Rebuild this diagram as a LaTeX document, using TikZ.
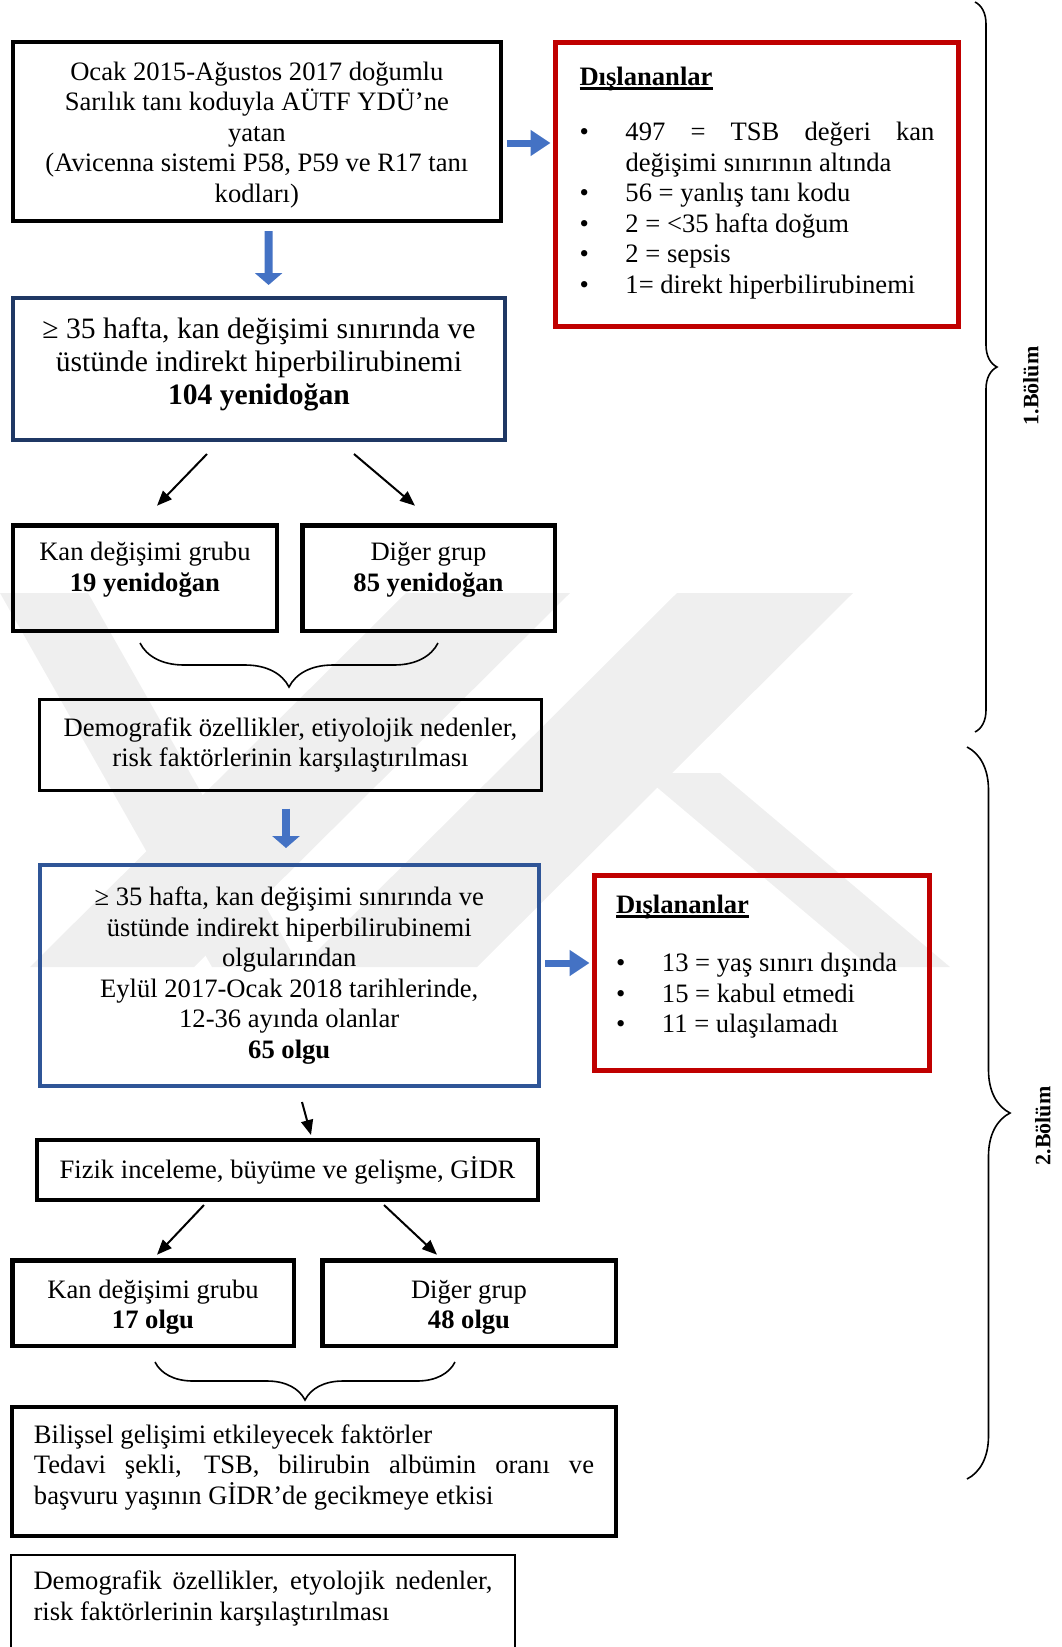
\documentclass[tikz,border=0pt]{standalone}
\usepackage{fontspec}
\setmainfont{Liberation Serif}
\usetikzlibrary{arrows.meta,decorations.pathreplacing}
\definecolor{navycolor}{RGB}{31,56,100}
\definecolor{cohortcolor}{RGB}{47,85,151}
\definecolor{exclcolor}{RGB}{192,0,0}
\definecolor{arrowcolor}{RGB}{68,114,196}
\definecolor{markcolor}{RGB}{239,239,239}
\newcommand{\boxfont}{\fontsize{26.6}{30.5}\selectfont}
\newcommand{\bigboxfont}{\fontsize{29.6}{33}\selectfont}
\newsavebox{\headbox}
\newcommand{\exhead}[1]{\sbox{\headbox}{\textbf{#1}}\usebox{\headbox}\llap{\rule[-4pt]{\wd\headbox}{2.2pt}}}
\newcommand{\exitem}[1]{\par\hangindent=46pt\hangafter=1\noindent\makebox[46pt][l]{\textbullet}#1}

\begin{document}
\begin{tikzpicture}[x=1pt, y=-1pt,
    box/.style={rectangle, draw, line width=4pt, align=center, font=\boxfont, inner sep=0pt},
    exclbox/.style={rectangle, draw=exclcolor, line width=5pt, align=justify, font=\boxfont, inner sep=0pt},
    bluearrow/.style={-{Triangle[length=12pt,width=27pt]}, line width=8pt, arrowcolor},
    sidearrow/.style={-{Triangle[length=20pt,width=25pt]}, line width=7pt, arrowcolor},
    thinarrow/.style={-{Triangle[length=15pt,width=12pt]}, line width=2pt},
    groupbrace/.style={decorate, decoration={brace, mirror, amplitude=#1}, line width=1.6pt},
    partbrace/.style={decorate, decoration={brace, amplitude=#1}, line width=1.6pt},
    partlabel/.style={rotate=90, font=\fontsize{22}{26}\selectfont\bfseries}
]
    \useasboundingbox (0,0) rectangle (1062,1647);

    % Watermark
    \fill[markcolor] (0,593) -- (88,593) -- (300,967) -- (212,967) -- cycle;
    \fill[markcolor] (406,593) -- (570,593) -- (194,967) -- (30,967) -- cycle;
    \fill[markcolor] (677,593) -- (853,593) -- (477,967) -- (301,967) -- cycle;
    \fill[markcolor] (640,773) -- (720,773) -- (950,967) -- (870,967) -- cycle;

    % Nodes
    \node[box, minimum width=488pt, minimum height=179pt] (intake) at (256.85,131.5)
        {\mbox{}\\[-5.5pt]Ocak 2015-Ağustos 2017 doğumlu\\Sarılık tanı koduyla AÜTF YDÜ’ne\\yatan\\(Avicenna sistemi P58, P59 ve R17 tanı\\kodları)};
    \node[box, draw=navycolor, font=\bigboxfont, minimum width=492pt, minimum height=142pt] (cohortA) at (258.9,369)
        {≥ 35 hafta, kan değişimi sınırında ve\\üstünde indirekt hiperbilirubinemi\\\textbf{104 yenidoğan}\\[-18pt]\mbox{}};
    \node[exclbox, minimum width=403pt, minimum height=284pt, text width=355pt] (exclA) at (757,184.5)
        {\exhead{Dışlananlar}\par\vspace{24.5pt}%
        \exitem{497 = TSB değeri kan değişimi sınırının altında}%
        \exitem{56 = yanlış tanı kodu}%
        \exitem{2 = <35 hafta doğum}%
        \exitem{2 = sepsis}%
        \exitem{1= direkt hiperbilirubinemi}\par\vspace{3pt}\hrule height 0pt};
    \node[box, line width=4.5pt, minimum width=264pt, minimum height=105.5pt] (exchA) at (144.9,578)
        {Kan değişimi grubu\\\textbf{19 yenidoğan}\\[-8pt]\mbox{}};
    \node[box, line width=4.5pt, minimum width=252.5pt, minimum height=105.5pt] (otherA) at (428.5,578)
        {Diğer grup\\\textbf{85 yenidoğan}\\[-8pt]\mbox{}};
    \node[box, line width=3pt, minimum width=502pt, minimum height=91pt] (compareA) at (290.5,745)
        {Demografik özellikler, etiyolojik nedenler,\\risk faktörlerinin karşılaştırılması};
    \node[box, draw=cohortcolor, minimum width=499.5pt, minimum height=221pt] (cohortB) at (289.25,975.5)
        {≥ 35 hafta, kan değişimi sınırında ve\\üstünde indirekt hiperbilirubinemi\\olgularından\\Eylül 2017-Ocak 2018 tarihlerinde,\\12-36 ayında olanlar\\\textbf{65 olgu}};
    \node[exclbox, minimum width=335pt, minimum height=195pt, text width=292pt] (exclB) at (762,973)
        {\exhead{Dışlananlar}\par\vspace{27.5pt}%
        \exitem{13 = yaş sınırı dışında}%
        \exitem{15 = kabul etmedi}%
        \exitem{11 = ulaşılamadı}\par\vspace{12.6pt}\hrule height 0pt};
    \node[box, minimum width=501pt, minimum height=60pt] (exam) at (287.5,1170)
        {Fizik inceleme, büyüme ve gelişme, GİDR};
    \node[box, line width=4.5pt, minimum width=281.5pt, minimum height=85.5pt] (exchB) at (153,1303)
        {\mbox{}\\[-3.5pt]Kan değişimi grubu\\\textbf{17 olgu}};
    \node[box, line width=4.5pt, minimum width=293.5pt, minimum height=85.5pt] (otherB) at (469,1303)
        {\mbox{}\\[-3.5pt]Diğer grup\\\textbf{48 olgu}};
    \node[box, align=justify, text width=560pt, minimum width=604pt, minimum height=129pt] (cognition) at (314,1471.5)
        {Bilişsel gelişimi etkileyecek faktörler\newline Tedavi şekli, TSB, bilirubin albümin oranı ve\linebreak başvuru yaşının GİDR’de gecikmeye etkisi\par\vspace{8.4pt}\hrule height 0pt};
    \node[box, line width=2pt, align=justify, text width=459pt, minimum width=504pt, inner ysep=16pt, anchor=north] (compareB) at (263,1554)
        {Demografik özellikler, etyolojik nedenler,\linebreak risk faktörlerinin karşılaştırılması\par\vspace*{90pt}\mbox{}};

    % Arrows
    \draw[bluearrow] ([xshift=11.75pt,yshift=-8pt]intake.south) -- ([xshift=9.7pt,yshift=11pt]cohortA.north);
    \draw[sidearrow] ([xshift=4pt,yshift=-11.5pt]intake.east) -- ([xshift=-2.5pt,yshift=41.5pt]exclA.west);
    \draw[thinarrow] ([xshift=-51.9pt,yshift=-12pt]cohortA.south) -- ([xshift=12.1pt,yshift=17.3pt]exchA.north);
    \draw[thinarrow] ([xshift=95.1pt,yshift=-12pt]cohortA.south) -- ([xshift=-13.5pt,yshift=17.3pt]otherA.north);
    \draw[bluearrow] ([xshift=-4.5pt,yshift=-16.5pt]compareA.south) -- ([xshift=-3.25pt,yshift=15pt]cohortB.north);
    \draw[sidearrow] ([xshift=4pt,yshift=12.5pt]cohortB.east) -- ([xshift=-2.5pt,yshift=10pt]exclB.west);
    \draw[thinarrow] ([xshift=12.75pt,yshift=-14pt]cohortB.south) -- ([xshift=23.5pt,yshift=3pt]exam.north);
    \draw[thinarrow] ([xshift=-83.5pt,yshift=-3pt]exam.south) -- ([xshift=4pt,yshift=3.3pt]exchB.north);
    \draw[thinarrow] ([xshift=96.5pt,yshift=-3pt]exam.south) -- ([xshift=-32pt,yshift=3.3pt]otherB.north);

    % Braces
    \coordinate (groupAl) at (140,643);
    \coordinate (groupAr) at (438,643);
    \coordinate (groupBl) at (155,1362);
    \coordinate (groupBr) at (455,1362);
    \draw[groupbrace=44pt] (groupAl) -- (groupAr);
    \draw[groupbrace=38pt] (groupBl) -- (groupBr);

    % Parts
    \coordinate (partAtop) at (975,2);
    \coordinate (partAbot) at (975,732);
    \coordinate (partBtop) at (967,747);
    \coordinate (partBbot) at (967,1479);
    \draw[partbrace=22pt] (partAtop) -- (partAbot);
    \draw[partbrace=43pt] (partBtop) -- (partBbot);
    \node[partlabel] (partA) at (1031,386) {1.Bölüm};
    \node[partlabel] (partB) at (1043,1126) {2.Bölüm};
\end{tikzpicture}
\end{document}
